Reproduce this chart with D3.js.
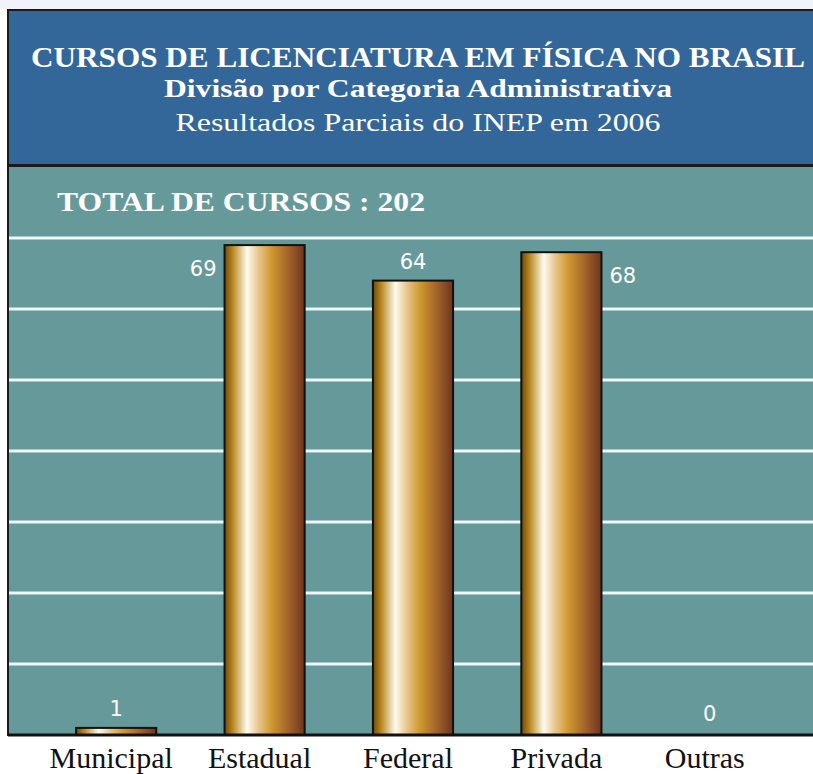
<!DOCTYPE html>
<html>
<head>
<meta charset="utf-8">
<script src="https://cdn.jsdelivr.net/npm/d3@7"></script>
<style>
  body { margin: 0; background: #fff; }
</style>
</head>
<body>
<div id="chart"></div>
<script>
// Data
const categories = ["Municipal", "Estadual", "Federal", "Privada", "Outras"];
const values = [1, 69, 64, 68, 0];
const yTicks = [0, 10, 20, 30, 40, 50, 60, 70];
const titleLines = [
    "CURSOS DE LICENCIATURA EM FÍSICA NO BRASIL",
    "Divisão por Categoria Administrativa",
    "Resultados Parciais do INEP em 2006"
];
const totalLabel = "TOTAL DE CURSOS : 202";
// where each value label sits relative to its bar
const labelSide = ["top", "left", "top", "right", "top"];

const width = 813;
const height = 774;
const margin = { top: 238, right: 29, bottom: 39, left: 42 };

const svg = d3.select("#chart")
    .append("svg")
    .attr("width", width)
    .attr("height", height);

// top strip
svg.append("rect")
    .attr("x", 0).attr("y", 0)
    .attr("width", width).attr("height", 9)
    .attr("fill", "#f2f2fa");

// Gradient for bars
const grad = svg.append("defs")
    .append("linearGradient")
    .attr("id", "bar-gold")
    .attr("x1", "0%").attr("x2", "100%")
    .attr("y1", "0%").attr("y2", "0%");
[
    [0, "#6a4a10"],
    [0.1, "#b8861c"],
    [0.28, "#fffbee"],
    [0.42, "#e8c690"],
    [0.58, "#d09a30"],
    [0.8, "#a2622a"],
    [1, "#6e3420"]
].forEach(([o, c]) => grad.append("stop").attr("offset", o).attr("stop-color", c));

// Header box
svg.append("rect")
    .attr("x", 8).attr("y", 10)
    .attr("width", width).attr("height", 155)
    .attr("fill", "#336699")
    .attr("stroke", "#1a1a1a")
    .attr("stroke-width", 2);

// Plot panel
svg.append("rect")
    .attr("x", 8).attr("y", 166)
    .attr("width", width).attr("height", 569)
    .attr("fill", "#669999")
    .attr("stroke", "#1a1a1a")
    .attr("stroke-width", 2);

// Titles
const titleStyles = [
    { y: 67, size: "30px", weight: "bold", len: 774 },
    { y: 97, size: "25px", weight: "bold", len: 508 },
    { y: 131, size: "25px", weight: "normal", len: 485 }
];
titleLines.forEach((t, i) => {
    svg.append("text")
        .attr("x", 418)
        .attr("y", titleStyles[i].y)
        .attr("text-anchor", "middle")
        .attr("textLength", titleStyles[i].len)
        .attr("lengthAdjust", "spacingAndGlyphs")
        .style("font-family", "'Liberation Serif', serif")
        .style("font-size", titleStyles[i].size)
        .style("font-weight", titleStyles[i].weight)
        .style("fill", "#fff")
        .text(t);
});

svg.append("text")
    .attr("x", 57)
    .attr("y", 211)
    .attr("textLength", 368)
    .attr("lengthAdjust", "spacingAndGlyphs")
    .style("font-family", "'Liberation Serif', serif")
    .style("font-size", "27px")
    .style("font-weight", "bold")
    .style("fill", "#fff")
    .text(totalLabel);

// Scales
const x = d3.scaleBand()
    .domain(categories)
    .range([margin.left, width - margin.right])
    .paddingInner(0.46)
    .paddingOuter(0.23);

const y = d3.scaleLinear()
    .domain([0, 70])
    .range([height - margin.bottom, margin.top]);

// Gridlines
svg.append("g")
    .selectAll("line")
    .data(yTicks.slice(1))
    .join("line")
    .attr("x1", 9)
    .attr("x2", width)
    .attr("y1", d => y(d))
    .attr("y2", d => y(d))
    .attr("stroke", "#eef6f6")
    .attr("stroke-width", 3);

// Bars
const data = categories.map((c, i) => ({ cat: c, value: values[i], side: labelSide[i] }));

svg.append("g")
    .selectAll("rect")
    .data(data.filter(d => d.value > 0))
    .join("rect")
    .attr("x", d => x(d.cat))
    .attr("y", d => y(d.value))
    .attr("width", x.bandwidth())
    .attr("height", d => y(0) - y(d.value))
    .attr("fill", "url(#bar-gold)")
    .attr("stroke", "#111")
    .attr("stroke-width", 2);

// Baseline
svg.append("line")
    .attr("x1", 8).attr("x2", width)
    .attr("y1", y(0)).attr("y2", y(0))
    .attr("stroke", "#111")
    .attr("stroke-width", 3);

// Value labels
svg.append("g")
    .selectAll("text")
    .data(data)
    .join("text")
    .attr("x", d => {
        if (d.side === "left") return x(d.cat) - 8;
        if (d.side === "right") return x(d.cat) + x.bandwidth() + 8;
        return x(d.cat) + x.bandwidth() / 2;
    })
    .attr("y", d => {
        if (d.side === "top") return y(d.value) - (d.value === 0 ? 14 : 12);
        return y(d.value) + 31;
    })
    .attr("text-anchor", d => d.side === "left" ? "end" : d.side === "right" ? "start" : "middle")
    .style("font-family", "'DejaVu Sans', sans-serif")
    .style("font-size", "21px")
    .style("fill", "#fff")
    .text(d => d.value);

// X axis labels
svg.append("g")
    .selectAll("text")
    .data(categories)
    .join("text")
    .attr("x", d => x(d) + x.bandwidth() / 2 - 5)
    .attr("y", 768)
    .attr("text-anchor", "middle")
    .style("font-family", "'Liberation Serif', serif")
    .style("font-size", "30px")
    .style("fill", "#111")
    .text(d => d);
</script>
</body>
</html>
